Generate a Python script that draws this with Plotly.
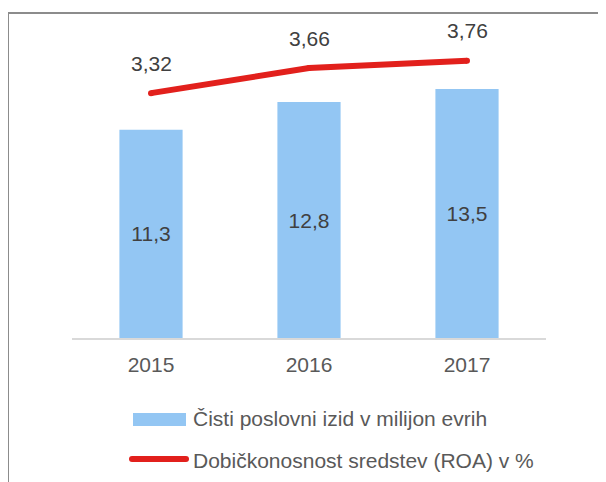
import plotly.graph_objects as go

# data
years = ["2015", "2016", "2017"]
izid = [11.3, 12.8, 13.5]          # Čisti poslovni izid v milijon evrih
roa = [3.32, 3.66, 3.76]           # Dobičkonosnost sredstev (ROA) v %
bar_name = "Čisti poslovni izid v milijon evrih"
line_name = "Dobičkonosnost sredstev (ROA) v %"

# the page body has an 8px margin, so the figure is 8px smaller
# and every target position below is in window pixels minus 8
OFF = 8
W, H = 606 - OFF, 482 - OFF
L, R, T, B = 64, 60, 35, 144
pw, ph = W - L - R, H - T - B


def px(x):
    return (x - OFF - L) / pw


def py(y):
    return (H - B - (y - OFF)) / ph


FONT = "Liberation Sans, Arial, sans-serif"
BLUE = "#93C6F3"
RED = "#E2201C"
FS = 21

fig = go.Figure()

fig.add_trace(go.Bar(
    x=years, y=izid, name=bar_name,
    marker=dict(color=BLUE, line=dict(width=0)),
    texttemplate="%{y:.1f}", textposition="inside",
    insidetextanchor="middle",
    textfont=dict(size=FS, color="#404040", family=FONT),
))

fig.add_trace(go.Scatter(
    x=years, y=roa, name=line_name, yaxis="y2",
    mode="lines+markers",
    line=dict(color=RED, width=6),
    marker=dict(color=RED, size=6),
))

# labels above the ROA line (x given as category index)
for i, v in enumerate(roa):
    fig.add_annotation(
        x=i, y=v, yref="y2", yshift=30, showarrow=False,
        text=f"{v:.2f}".replace(".", ","),
        font=dict(size=FS, color="#404040", family=FONT),
    )

# legend drawn by hand (wide swatches like the original)
fig.add_shape(type="rect", xref="paper", yref="paper",
              x0=px(133), x1=px(186), y0=py(426), y1=py(413),
              fillcolor=BLUE, line=dict(width=0))
fig.add_shape(type="line", xref="paper", yref="paper",
              x0=px(132), x1=px(186), y0=py(459), y1=py(459),
              line=dict(color=RED, width=6))
for cx in (132, 186):
    fig.add_shape(type="circle", xref="paper", yref="paper",
                  x0=px(cx - 3), x1=px(cx + 3), y0=py(462), y1=py(456),
                  fillcolor=RED, line=dict(width=0))
for name, yy in ((bar_name, 419), (line_name, 460)):
    fig.add_annotation(
        xref="paper", yref="paper", x=px(191), y=py(yy),
        xanchor="left", yanchor="middle", showarrow=False, text=name,
        font=dict(size=FS, color="#595959", family=FONT),
    )

# outer frame (only top and left edges visible)
fig.add_shape(type="line", xref="paper", yref="paper",
              x0=px(8), x1=px(620), y0=py(13), y1=py(13),
              line=dict(color="#8C8C8C", width=2))
fig.add_shape(type="line", xref="paper", yref="paper",
              x0=px(8), x1=px(8), y0=py(12), y1=py(500),
              line=dict(color="#8C8C8C", width=2))

fig.update_layout(
    width=W, height=H,
    margin=dict(l=L, r=R, t=T, b=B),
    paper_bgcolor="white", plot_bgcolor="white",
    showlegend=False,
    separators=",.",
    bargap=0.6,
    font=dict(family=FONT, size=FS, color="#595959"),
    xaxis=dict(type="category", range=[-0.5, 2.5], showline=True,
               linecolor="#D9D9D9", linewidth=2, showgrid=False, ticks="",
               ticklabelstandoff=7,
               tickfont=dict(size=FS, color="#595959")),
    yaxis=dict(range=[0, 16], visible=False, showgrid=False, zeroline=False),
    yaxis2=dict(range=[0, 4], overlaying="y", visible=False,
                showgrid=False, zeroline=False),
)

fig.write_html("out.html")
